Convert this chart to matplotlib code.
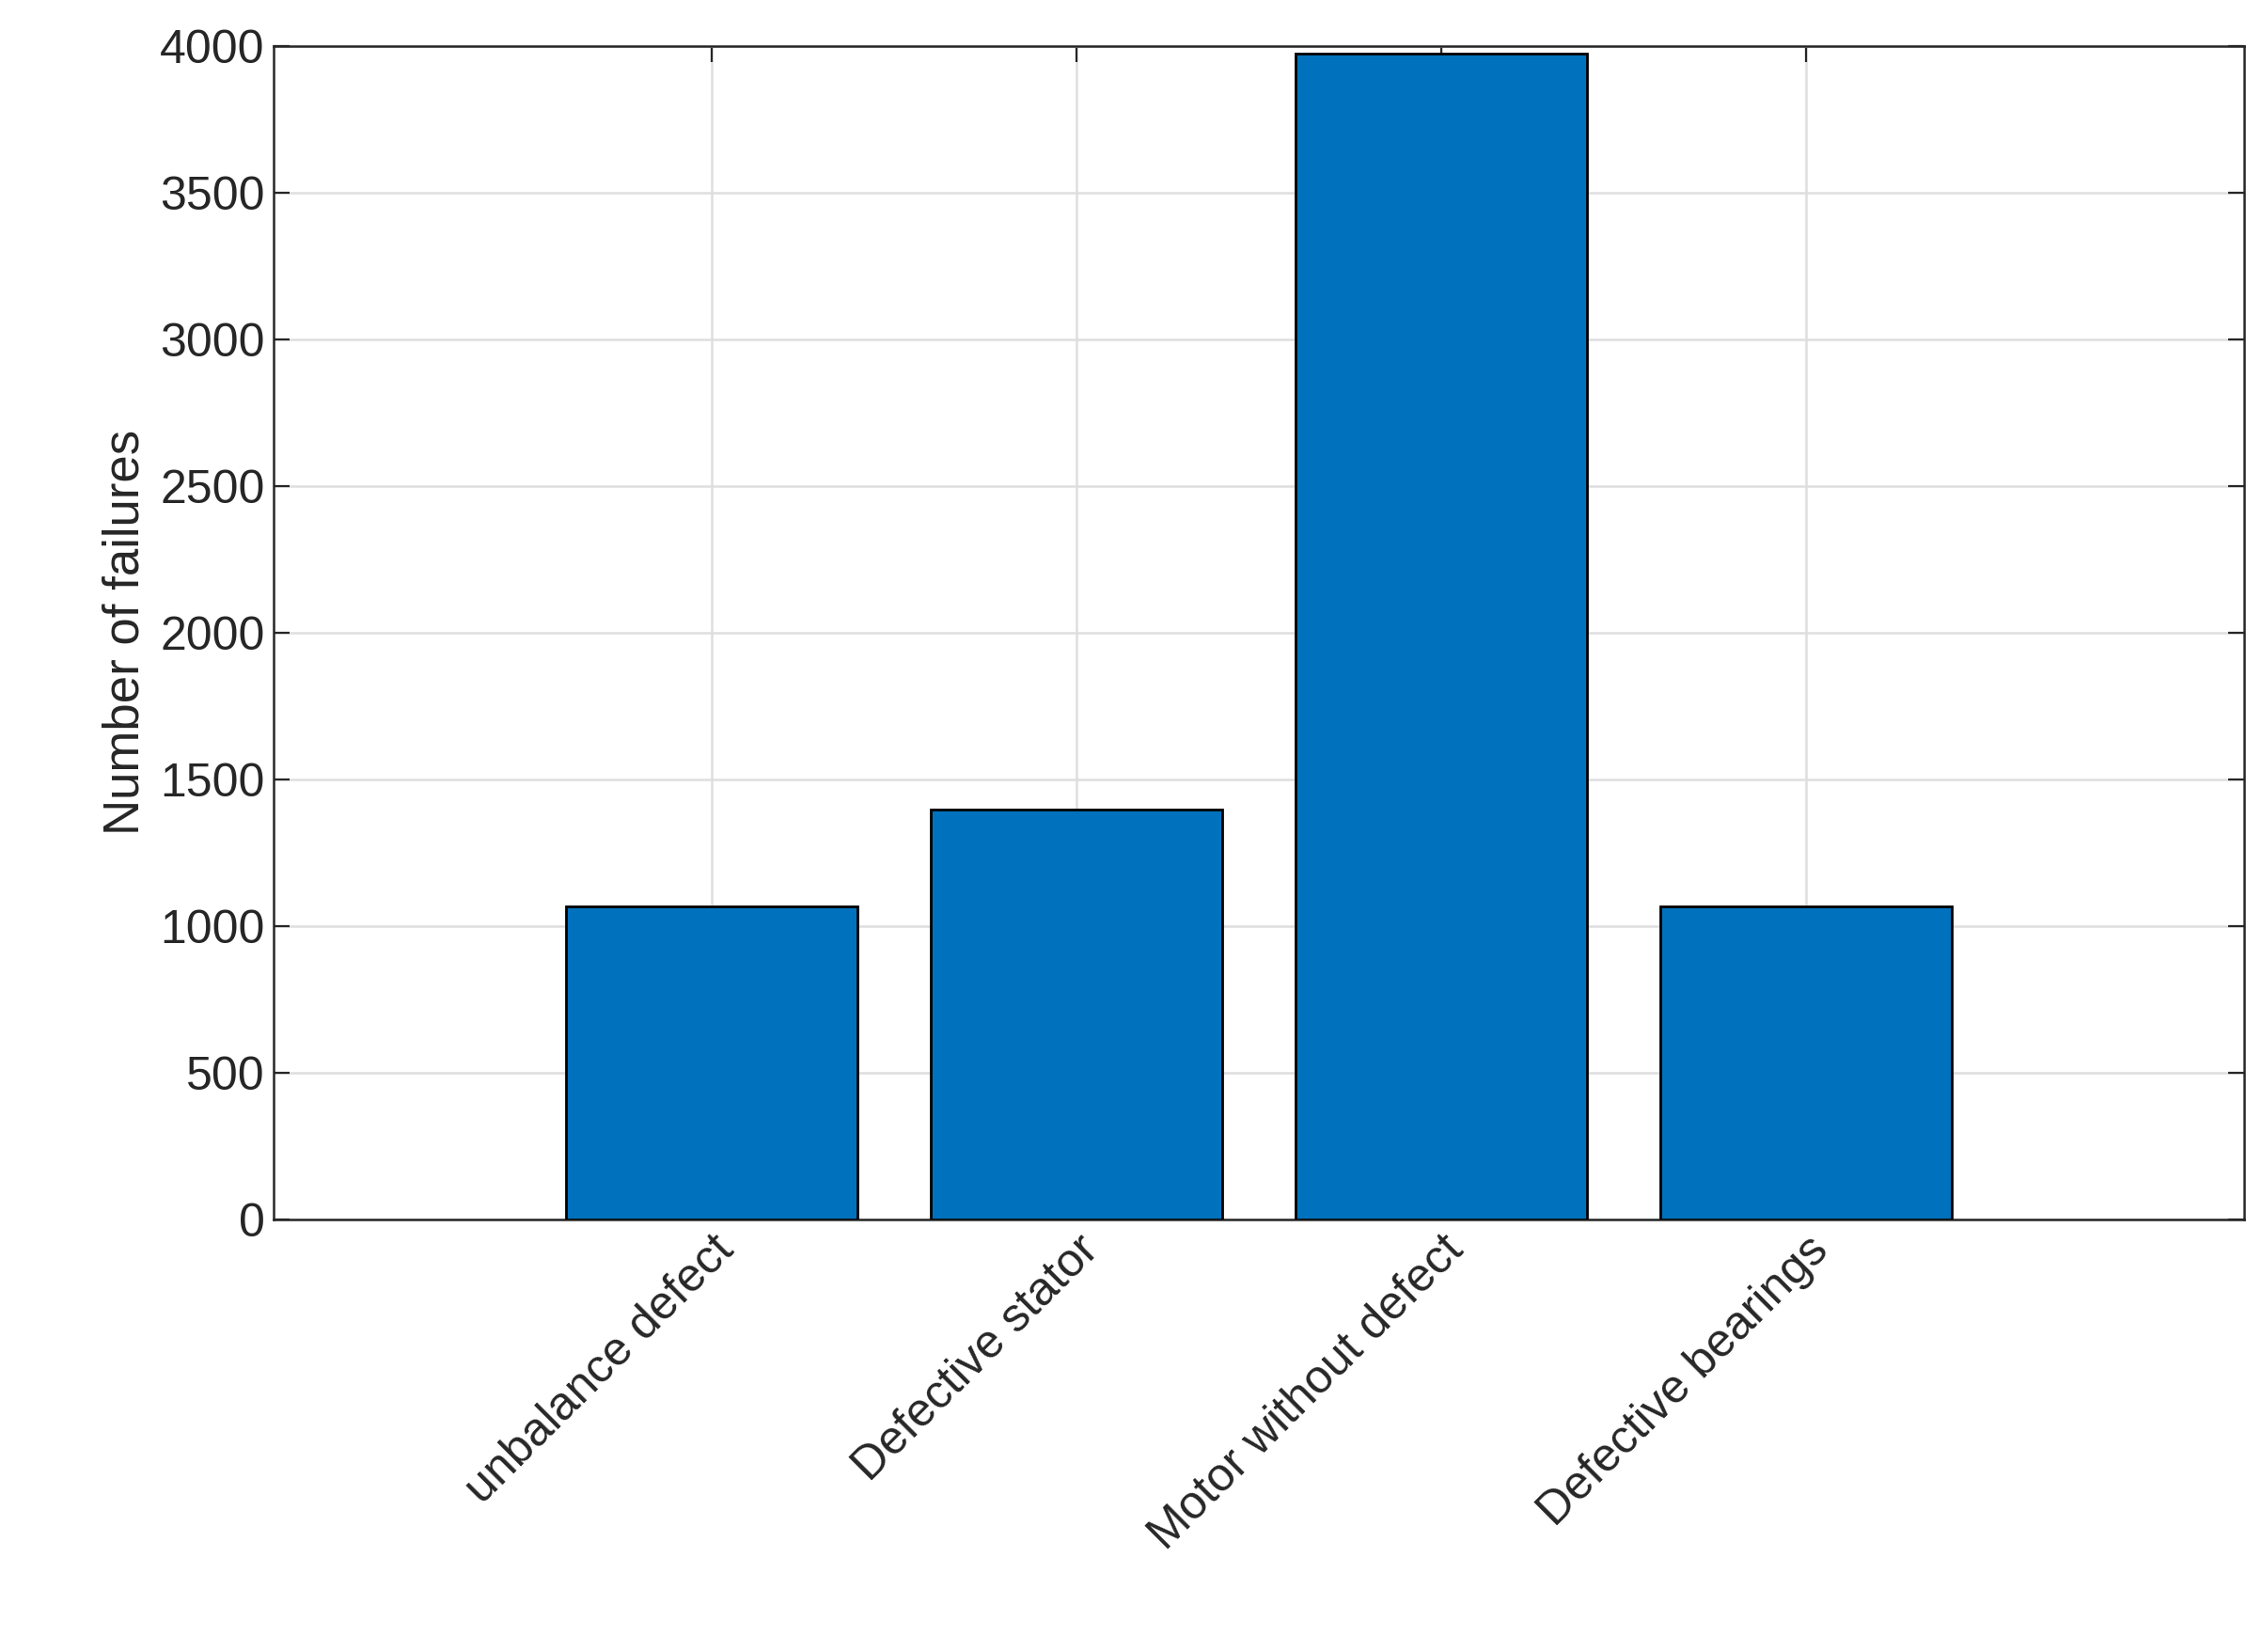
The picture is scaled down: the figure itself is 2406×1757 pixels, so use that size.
import matplotlib
matplotlib.use("Agg")
import matplotlib.pyplot as plt

categories = ["unbalance defect", "Defective stator", "Motor without defect", "Defective bearings"]
values = [1068, 1396, 3975, 1068]
yticks = [0, 500, 1000, 1500, 2000, 2500, 3000, 3500, 4000]

plt.rcParams['font.family'] = ['Liberation Sans', 'DejaVu Sans']
fig = plt.figure(figsize=(12.03, 8.785), dpi=200)
ax = fig.add_axes([0.121, 0.262, 0.871, 0.71])
pos = list(range(1, len(categories) + 1))
ax.bar(pos, values, width=0.8, color="#0072BD", edgecolor="black", linewidth=1.0, zorder=3)
ax.set_xlim(-0.2, 5.2)
ax.set_ylim(0, 4000)
ax.set_yticks(yticks)
ax.set_xticks(pos)
ax.set_xticklabels(categories, rotation=45, ha="right", rotation_mode="anchor")
ax.grid(True, color="#dedede", linewidth=0.9, zorder=0)
ax.tick_params(direction="in", top=True, right=True, labelsize=18, length=6, color="#262626", labelcolor="#262626")
ax.set_ylabel("Number of failures", fontsize=19, color="#262626")
for s in ax.spines.values():
    s.set_color("#262626")
    s.set_linewidth(0.9)
fig.savefig("out.png", dpi=200)
